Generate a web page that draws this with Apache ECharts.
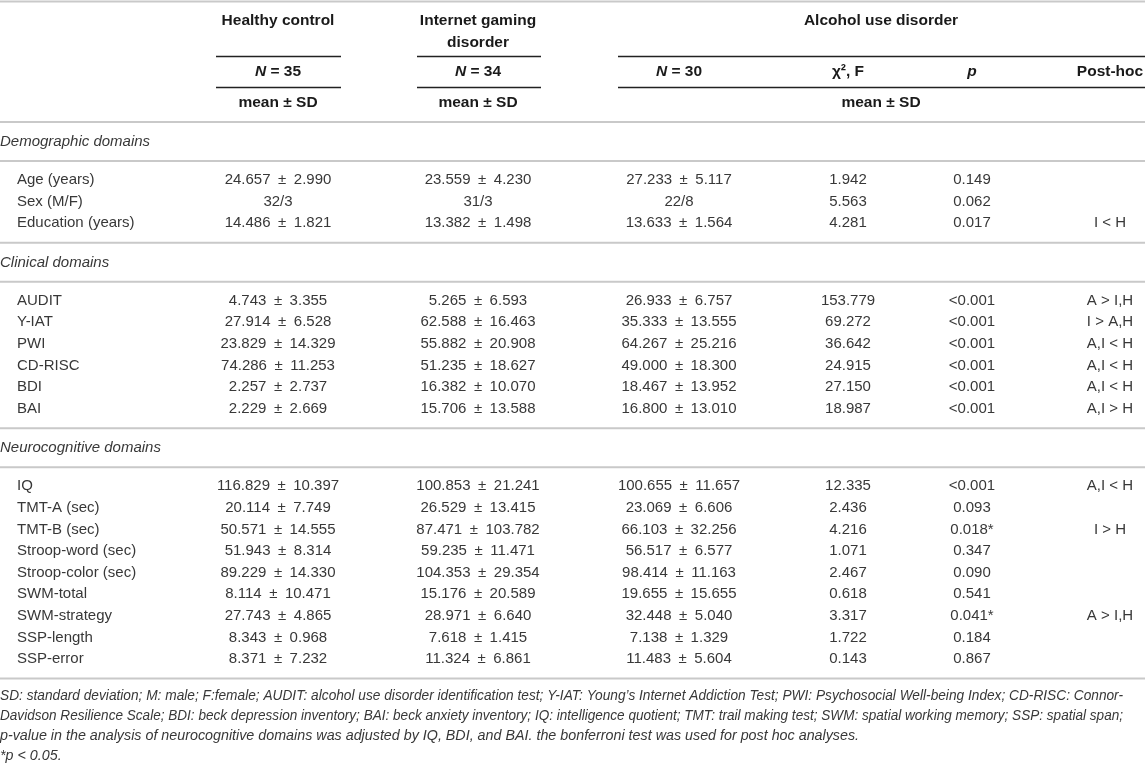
<!DOCTYPE html>
<html>
<head>
<meta charset="utf-8">
<script src="https://cdn.jsdelivr.net/npm/echarts@6/dist/echarts.min.js"></script>
<style>
  html, body { margin: 0; padding: 0; background: #fff; }
  #main { width: 1145px; height: 763px; }
</style>
</head>
<body>
<div id="main"></div>
<script>
// table content
const groupNames = ['Healthy control', 'Internet gaming\ndisorder', 'Alcohol use disorder'];
const sampleSizes = [35, 34, 30];
const sectionNames = ['Demographic domains', 'Clinical domains', 'Neurocognitive domains'];
const sectionCounts = [3, 6, 9];
const rowLabels = [
  'Age (years)', 'Sex (M/F)', 'Education (years)',
  'AUDIT', 'Y-IAT', 'PWI', 'CD-RISC', 'BDI', 'BAI',
  'IQ', 'TMT-A (sec)', 'TMT-B (sec)', 'Stroop-word (sec)', 'Stroop-color (sec)',
  'SWM-total', 'SWM-strategy', 'SSP-length', 'SSP-error'
];
const hcValues = [
  '24.657 ± 2.990', '32/3', '14.486 ± 1.821',
  '4.743 ± 3.355', '27.914 ± 6.528', '23.829 ± 14.329', '74.286 ± 11.253', '2.257 ± 2.737', '2.229 ± 2.669',
  '116.829 ± 10.397', '20.114 ± 7.749', '50.571 ± 14.555', '51.943 ± 8.314', '89.229 ± 14.330',
  '8.114 ± 10.471', '27.743 ± 4.865', '8.343 ± 0.968', '8.371 ± 7.232'
];
const igdValues = [
  '23.559 ± 4.230', '31/3', '13.382 ± 1.498',
  '5.265 ± 6.593', '62.588 ± 16.463', '55.882 ± 20.908', '51.235 ± 18.627', '16.382 ± 10.070', '15.706 ± 13.588',
  '100.853 ± 21.241', '26.529 ± 13.415', '87.471 ± 103.782', '59.235 ± 11.471', '104.353 ± 29.354',
  '15.176 ± 20.589', '28.971 ± 6.640', '7.618 ± 1.415', '11.324 ± 6.861'
];
const audValues = [
  '27.233 ± 5.117', '22/8', '13.633 ± 1.564',
  '26.933 ± 6.757', '35.333 ± 13.555', '64.267 ± 25.216', '49.000 ± 18.300', '18.467 ± 13.952', '16.800 ± 13.010',
  '100.655 ± 11.657', '23.069 ± 6.606', '66.103 ± 32.256', '56.517 ± 6.577', '98.414 ± 11.163',
  '19.655 ± 15.655', '32.448 ± 5.040', '7.138 ± 1.329', '11.483 ± 5.604'
];
const statValues = [
  '1.942', '5.563', '4.281',
  '153.779', '69.272', '36.642', '24.915', '27.150', '18.987',
  '12.335', '2.436', '4.216', '1.071', '2.467', '0.618', '3.317', '1.722', '0.143'
];
const pValues = [
  '0.149', '0.062', '0.017',
  '<0.001', '<0.001', '<0.001', '<0.001', '<0.001', '<0.001',
  '<0.001', '0.093', '0.018*', '0.347', '0.090', '0.541', '0.041*', '0.184', '0.867'
];
const postHoc = [
  '', '', 'I < H',
  'A > I,H', 'I > A,H', 'A,I < H', 'A,I < H', 'A,I < H', 'A,I > H',
  'A,I < H', '', 'I > H', '', '', '', 'A > I,H', '', ''
];
const footnotes = [
  'SD: standard deviation; M: male; F:female; AUDIT: alcohol use disorder identification test; Y-IAT: Young\u2019s Internet Addiction Test; PWI: Psychosocial Well-being Index; CD-RISC: Connor-',
  'Davidson Resilience Scale; BDI: beck depression inventory; BAI: beck anxiety inventory; IQ: intelligence quotient; TMT: trail making test; SWM: spatial working memory; SSP: spatial span;',
  'p-value in the analysis of neurocognitive domains was adjusted by IQ, BDI, and BAI. the bonferroni test was used for post hoc analyses.',
  '*p < 0.05.'
];
const justified = [true, true, false, false];

const FONT = '"Liberation Sans", Arial, sans-serif';
const colX = [278, 478, 679, 848, 972, 1110];
const audCenter = 881;
const rowH = 21.6;
const grayLine = '#c9c9c9';
const noteSize = 14.3;
const noteRight = 1123;
const pm = function (s) { return s.replace(' ± ', '\u2002±\u2002'); };

const myChart = echarts.init(document.getElementById('main'));
const g = [];

function txt(x, y, text, opts, extra) {
  opts = opts || {};
  g.push(Object.assign({
    type: 'text',
    x: x, y: y,
    style: Object.assign({
      text: text,
      fontFamily: FONT,
      fontSize: 15,
      fill: '#383838',
      textAlign: 'center',
      textVerticalAlign: 'middle'
    }, opts)
  }, extra || {}));
}
function hline(x1, x2, y, color, w) {
  g.push({
    type: 'line',
    shape: { x1: x1, y1: y, x2: x2, y2: y },
    style: { stroke: color, lineWidth: w }
  });
}

// header
hline(0, 1145, 1.5, grayLine, 2);
const bold = { fontWeight: 'bold', fill: '#1a1a1a', fontSize: 15.5 };
txt(colX[0], 21, groupNames[0], bold);
txt(colX[1], 31.5, groupNames[1], Object.assign({ lineHeight: 21.5 }, bold));
txt(audCenter, 21, groupNames[2], bold);
const under = [[216, 341], [417, 541], [618, 1145]];
under.forEach(function (u) { hline(u[0], u[1], 56.5, '#222', 1.6); });
const nRich = {
  i: { fontFamily: FONT, fontSize: 15.5, fontWeight: 'bold', fontStyle: 'italic', fill: '#1a1a1a' },
  b: { fontFamily: FONT, fontSize: 15.5, fontWeight: 'bold', fill: '#1a1a1a' }
};
[0, 1, 2].forEach(function (k) {
  txt(colX[k], 72, '{i|N}{b| = ' + sampleSizes[k] + '}', Object.assign({ rich: nRich }, bold));
});
txt(colX[3], 72, 'χ², F', bold);
txt(colX[4], 72, 'p', Object.assign({ fontStyle: 'italic' }, bold));
txt(colX[5], 72, 'Post-hoc', bold);
under.forEach(function (u) { hline(u[0], u[1], 87.5, '#222', 1.6); });
txt(colX[0], 103, 'mean ± SD', bold);
txt(colX[1], 103, 'mean ± SD', bold);
txt(audCenter, 103, 'mean ± SD', bold);
hline(0, 1145, 122, grayLine, 2);

// body
let y = 122;
let r = 0;
sectionNames.forEach(function (name, s) {
  txt(0, y + 20, name, { textAlign: 'left', fontStyle: 'italic' });
  hline(0, 1145, y + 39, grayLine, 2);
  let ry = y + 58;
  for (let j = 0; j < sectionCounts[s]; j++, r++) {
    txt(17, ry, rowLabels[r], { textAlign: 'left' });
    txt(colX[0], ry, pm(hcValues[r]));
    txt(colX[1], ry, pm(igdValues[r]));
    txt(colX[2], ry, pm(audValues[r]));
    txt(colX[3], ry, statValues[r]);
    txt(colX[4], ry, pValues[r]);
    if (postHoc[r]) txt(colX[5], ry, postHoc[r]);
    ry += rowH;
  }
  y = ry - rowH + 19.5;
  hline(0, 1145, y, grayLine, 2);
});

// footnotes; the first two lines are squeezed to the same right edge
const ctx = document.createElement('canvas').getContext('2d');
ctx.font = 'italic ' + noteSize + 'px ' + FONT;
const noteStyle = { textAlign: 'left', fontStyle: 'italic', fontSize: noteSize };
footnotes.forEach(function (line, i) {
  const ly = y + 18 + i * 20;
  let sx = 1;
  if (justified[i]) sx = noteRight / ctx.measureText(line).width;
  txt(0, ly, line, noteStyle, { scaleX: sx });
});

myChart.setOption({
  animation: false,
  graphic: g
});
</script>
</body>
</html>
